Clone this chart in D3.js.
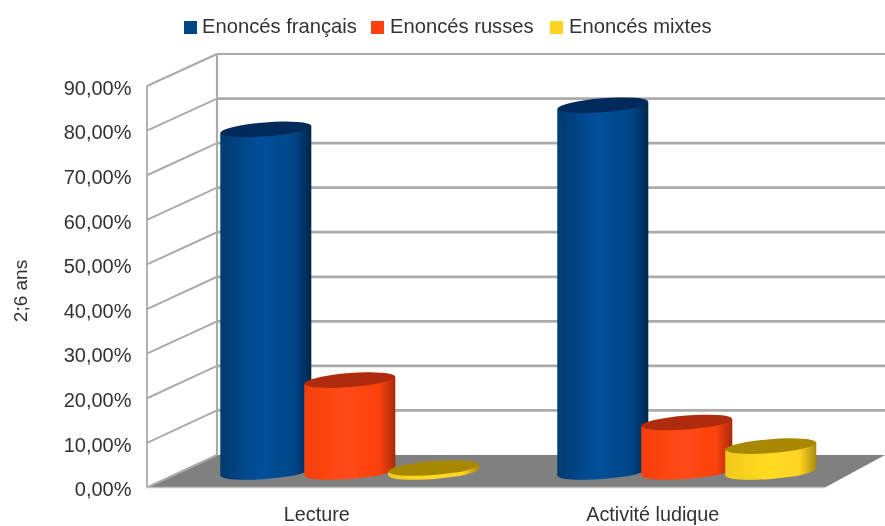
<!DOCTYPE html>
<html><head><meta charset="utf-8">
<style>html,body{margin:0;padding:0;background:#fff}svg{display:block}text{font-family:"Liberation Sans",Arial,sans-serif;fill:#333}</style>
<script src="https://cdn.jsdelivr.net/npm/d3@7"></script></head><body>
<script>
const categories = ["Lecture", "Activité ludique"];
const seriesNames = ["Enoncés français", "Enoncés russes", "Enoncés mixtes"];
const francais = [76.8, 82.2];
const russes = [20.6, 11.1];
const mixtes = [0.9, 5.8];
const tickValues = [0,10,20,30,40,50,60,70,80,90];
const axisTitle = "2;6 ans";
const colors = [{side:"#004586",dark:"#00264d",top:"#002c5c",mid:"#00509c",edge:"#003a70"},
                {side:"#ff420e",dark:"#a82a06",top:"#b02c08",mid:"#ff4a14",edge:"#f53f0c"},
                {side:"#ffd320",dark:"#a88a10",top:"#a88800",mid:"#ffdc20",edge:"#f2c81c"}];
const seriesData = [francais, russes, mixtes];

const W=885,H=526;
const svg=d3.select("body").append("svg").attr("width",W).attr("height",H);
const defs=svg.append("defs");
colors.forEach((c,i)=>{
  const g=defs.append("linearGradient").attr("id","g"+i).attr("x1",0).attr("x2",1).attr("y1",0).attr("y2",0);
  [[0,c.edge],[.45,c.mid],[.82,c.side],[1,c.dark]].forEach(s=>g.append("stop").attr("offset",s[0]).attr("stop-color",s[1]));
});
defs.append("filter").attr("id","soft").attr("filterUnits","userSpaceOnUse").attr("x",0).attr("y",0).attr("width",W).attr("height",H)
  .append("feGaussianBlur").attr("stdDeviation",0.6);
defs.append("filter").attr("id","softText").attr("filterUnits","userSpaceOnUse").attr("x",0).attr("y",0).attr("width",W).attr("height",H)
  .append("feGaussianBlur").attr("stdDeviation",0.35);

const root=svg.append("g").attr("filter","url(#soft)");
const yFront=d3.scaleLinear().domain([0,90]).range([487.5,86]);
const yBack=d3.scaleLinear().domain([0,90]).range([455,54]);
const xFrontL=147,xBackL=217,xBackR=885,xFrontR=825;
const grid="#ababab";
root.append("path").attr("d",`M${xFrontL},${yFront(0)}L${xBackL},${yBack(0)}L${xBackR},${yBack(0)}L${xFrontR},${yFront(0)}Z`).attr("fill","#808080");
root.selectAll("line.side").data(tickValues).join("line").attr("x1",xFrontL).attr("x2",xBackL)
  .attr("y1",d=>yFront(d)).attr("y2",d=>yBack(d)).attr("stroke",grid).attr("stroke-width",2);
root.selectAll("line.back").data(tickValues.slice(1)).join("line").attr("x1",xBackL).attr("x2",xBackR)
  .attr("y1",d=>yBack(d)).attr("y2",d=>yBack(d)).attr("stroke",grid).attr("stroke-width",d=>d===90?1.8:2.8);
root.append("line").attr("x1",xFrontL).attr("x2",xFrontL).attr("y1",yFront(0)).attr("y2",yFront(90)).attr("stroke",grid).attr("stroke-width",1.8);
root.append("line").attr("x1",xBackL).attr("x2",xBackL).attr("y1",yBack(0)).attr("y2",yBack(90)).attr("stroke",grid).attr("stroke-width",2.2);
root.append("line").attr("x1",xFrontL).attr("x2",xFrontR).attr("y1",yFront(0)).attr("y2",yFront(0)).attr("stroke","#bdbdbd").attr("stroke-width",1.4);

const x0=d3.scaleBand().domain(categories).range([180,854]);
const step=84, rx=45.5, ry=7, tilt=-4.5, baseY=472;
const h=d3.scaleLinear().domain([0,90]).range([0,401.5]);
const off=d3.scaleOrdinal().domain(seriesNames).range([-step,0,step]);
const groupC=c=>x0(c)+x0.bandwidth()/2+1.3;
seriesNames.forEach((s,i)=>{
  const g=root.append("g");
  categories.forEach((c,j)=>{
    const v=seriesData[i][j];
    const cx=groupC(c)+off(s), top=baseY-h(v);
    const t=Math.tan(tilt*Math.PI/180)*rx;
    g.append("path")
      .attr("d",`M${cx-rx},${top-t}L${cx-rx},${baseY-t}A${rx},${ry} ${tilt} 0 0 ${cx+rx},${baseY+t}L${cx+rx},${top+t}Z`)
      .attr("fill",`url(#g${i})`);
    g.append("ellipse").attr("cx",cx).attr("cy",top).attr("rx",rx).attr("ry",ry)
      .attr("transform",`rotate(${tilt} ${cx} ${top})`).attr("fill",colors[i].top);
  });
});

const labels=svg.append("g").attr("filter","url(#softText)");
const axis=d3.axisLeft(yFront).tickValues(tickValues).tickSize(0).tickPadding(0)
  .tickFormat(d=>d3.format(".2f")(d).replace(".",",")+"%");
const ag=labels.append("g").attr("transform","translate(131.5,0)").call(axis);
ag.select(".domain").remove();
ag.selectAll("text").attr("font-size",20).style("font-family",'"Liberation Sans"').style("fill","#333").attr("dy","0.41em");

const catShift=[-33,-34];
labels.selectAll("text.cat").data(categories).join("text").attr("class","cat")
  .attr("x",(d,i)=>groupC(d)+catShift[i]).attr("y",521).attr("text-anchor","middle").attr("font-size",19.8).text(d=>d);

labels.append("text").attr("transform","translate(27,291) rotate(-90)").attr("text-anchor","middle").attr("font-size",19).text(axisTitle);

const lx=[184,371,550], tx=[202,390,569];
seriesNames.forEach((s,i)=>{
  labels.append("rect").attr("x",lx[i]).attr("y",21).attr("width",13).attr("height",13).attr("fill",colors[i].side);
  labels.append("text").attr("x",tx[i]).attr("y",33).attr("font-size",20.2).text(s);
});
</script></body></html>
